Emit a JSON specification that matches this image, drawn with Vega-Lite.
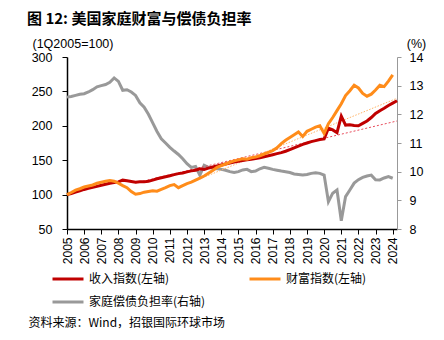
{
  "$schema": "https://vega.github.io/schema/vega-lite/v6.json",
  "width": 330,
  "height": 172,
  "autosize": {"type": "none"},
  "padding": {"left": 67, "top": 57, "right": 47, "bottom": 111},
  "background": "white",
  "title": {
    "text": "图 12: 美国家庭财富与偿债负担率",
    "anchor": "start",
    "frame": "group",
    "dx": -40,
    "offset": 10,
    "fontSize": 15,
    "fontWeight": "bold",
    "font": "Noto Sans CJK SC",
    "color": "#000000"
  },
  "config": {
    "view": {"stroke": null},
    "axis": {"grid": false, "labelFont": "Liberation Sans", "labelColor": "#000000", "titleFont": "Liberation Sans", "titleColor": "#000000", "titleFontWeight": "normal"},
    "legend": {
      "orient": "none",
      "legendX": -16,
      "legendY": 205,
      "columns": 2,
      "columnPadding": 37,
      "rowPadding": -10,
      "symbolType": "stroke",
      "symbolSize": 961,
      "symbolStrokeWidth": 3,
      "labelFontSize": 12,
      "labelFont": "Noto Sans CJK SC",
      "labelColor": "#000000",
      "labelOffset": 4,
      "labelLimit": 0
    }
  },
  "datasets": {
    "idx": [
      {"t":2005.00,"s":"收入指数(左轴)","v":100},{"t":2005.25,"s":"收入指数(左轴)","v":101.5},{"t":2005.50,"s":"收入指数(左轴)","v":103.5},{"t":2005.75,"s":"收入指数(左轴)","v":105.5},
      {"t":2006.00,"s":"收入指数(左轴)","v":107.5},{"t":2006.25,"s":"收入指数(左轴)","v":109},{"t":2006.50,"s":"收入指数(左轴)","v":110.5},{"t":2006.75,"s":"收入指数(左轴)","v":112},
      {"t":2007.00,"s":"收入指数(左轴)","v":113.5},{"t":2007.25,"s":"收入指数(左轴)","v":115},{"t":2007.50,"s":"收入指数(左轴)","v":116.5},{"t":2007.75,"s":"收入指数(左轴)","v":117.5},
      {"t":2008.00,"s":"收入指数(左轴)","v":118.5},{"t":2008.25,"s":"收入指数(左轴)","v":121},{"t":2008.50,"s":"收入指数(左轴)","v":120},{"t":2008.75,"s":"收入指数(左轴)","v":119},
      {"t":2009.00,"s":"收入指数(左轴)","v":118},{"t":2009.25,"s":"收入指数(左轴)","v":118.5},{"t":2009.50,"s":"收入指数(左轴)","v":118.5},{"t":2009.75,"s":"收入指数(左轴)","v":119.5},
      {"t":2010.00,"s":"收入指数(左轴)","v":121},{"t":2010.25,"s":"收入指数(左轴)","v":123},{"t":2010.50,"s":"收入指数(左轴)","v":124.5},{"t":2010.75,"s":"收入指数(左轴)","v":126},
      {"t":2011.00,"s":"收入指数(左轴)","v":127.5},{"t":2011.25,"s":"收入指数(左轴)","v":129},{"t":2011.50,"s":"收入指数(左轴)","v":130.5},{"t":2011.75,"s":"收入指数(左轴)","v":131.5},
      {"t":2012.00,"s":"收入指数(左轴)","v":133},{"t":2012.25,"s":"收入指数(左轴)","v":134.5},{"t":2012.50,"s":"收入指数(左轴)","v":135.5},{"t":2012.75,"s":"收入指数(左轴)","v":137.5},
      {"t":2013.00,"s":"收入指数(左轴)","v":136.5},{"t":2013.25,"s":"收入指数(左轴)","v":138.5},{"t":2013.50,"s":"收入指数(左轴)","v":140},{"t":2013.75,"s":"收入指数(左轴)","v":141.5},
      {"t":2014.00,"s":"收入指数(左轴)","v":143},{"t":2014.25,"s":"收入指数(左轴)","v":144.5},{"t":2014.50,"s":"收入指数(左轴)","v":146},{"t":2014.75,"s":"收入指数(左轴)","v":147.5},
      {"t":2015.00,"s":"收入指数(左轴)","v":148.5},{"t":2015.25,"s":"收入指数(左轴)","v":149.5},{"t":2015.50,"s":"收入指数(左轴)","v":150.5},{"t":2015.75,"s":"收入指数(左轴)","v":151.5},
      {"t":2016.00,"s":"收入指数(左轴)","v":152.5},{"t":2016.25,"s":"收入指数(左轴)","v":153.5},{"t":2016.50,"s":"收入指数(左轴)","v":155},{"t":2016.75,"s":"收入指数(左轴)","v":156.5},
      {"t":2017.00,"s":"收入指数(左轴)","v":158},{"t":2017.25,"s":"收入指数(左轴)","v":159.5},{"t":2017.50,"s":"收入指数(左轴)","v":161},{"t":2017.75,"s":"收入指数(左轴)","v":163},
      {"t":2018.00,"s":"收入指数(左轴)","v":165.5},{"t":2018.25,"s":"收入指数(左轴)","v":168},{"t":2018.50,"s":"收入指数(左轴)","v":170.5},{"t":2018.75,"s":"收入指数(左轴)","v":173},
      {"t":2019.00,"s":"收入指数(左轴)","v":175},{"t":2019.25,"s":"收入指数(左轴)","v":177},{"t":2019.50,"s":"收入指数(左轴)","v":178.5},{"t":2019.75,"s":"收入指数(左轴)","v":180},
      {"t":2020.00,"s":"收入指数(左轴)","v":181},{"t":2020.25,"s":"收入指数(左轴)","v":196.5},{"t":2020.50,"s":"收入指数(左轴)","v":194},{"t":2020.75,"s":"收入指数(左轴)","v":190},
      {"t":2021.00,"s":"收入指数(左轴)","v":214},{"t":2021.25,"s":"收入指数(左轴)","v":201},{"t":2021.50,"s":"收入指数(左轴)","v":201.5},{"t":2021.75,"s":"收入指数(左轴)","v":200.5},
      {"t":2022.00,"s":"收入指数(左轴)","v":200},{"t":2022.25,"s":"收入指数(左轴)","v":203.5},{"t":2022.50,"s":"收入指数(左轴)","v":207},{"t":2022.75,"s":"收入指数(左轴)","v":212},
      {"t":2023.00,"s":"收入指数(左轴)","v":218},{"t":2023.25,"s":"收入指数(左轴)","v":222},{"t":2023.50,"s":"收入指数(左轴)","v":225.5},{"t":2023.75,"s":"收入指数(左轴)","v":229.5},
      {"t":2024.00,"s":"收入指数(左轴)","v":233},{"t":2024.25,"s":"收入指数(左轴)","v":236.5},

      {"t":2005.00,"s":"财富指数(左轴)","v":100},{"t":2005.25,"s":"财富指数(左轴)","v":103},{"t":2005.50,"s":"财富指数(左轴)","v":106.5},{"t":2005.75,"s":"财富指数(左轴)","v":108.5},
      {"t":2006.00,"s":"财富指数(左轴)","v":111},{"t":2006.25,"s":"财富指数(左轴)","v":112.5},{"t":2006.50,"s":"财富指数(左轴)","v":114},{"t":2006.75,"s":"财富指数(左轴)","v":116.5},
      {"t":2007.00,"s":"财富指数(左轴)","v":118},{"t":2007.25,"s":"财富指数(左轴)","v":119.5},{"t":2007.50,"s":"财富指数(左轴)","v":120.5},{"t":2007.75,"s":"财富指数(左轴)","v":119.5},
      {"t":2008.00,"s":"财富指数(左轴)","v":116.5},{"t":2008.25,"s":"财富指数(左轴)","v":113},{"t":2008.50,"s":"财富指数(左轴)","v":110},{"t":2008.75,"s":"财富指数(左轴)","v":104.5},
      {"t":2009.00,"s":"财富指数(左轴)","v":100.5},{"t":2009.25,"s":"财富指数(左轴)","v":101.5},{"t":2009.50,"s":"财富指数(左轴)","v":103.5},{"t":2009.75,"s":"财富指数(左轴)","v":104.5},
      {"t":2010.00,"s":"财富指数(左轴)","v":105.5},{"t":2010.25,"s":"财富指数(左轴)","v":105},{"t":2010.50,"s":"财富指数(左轴)","v":107.5},{"t":2010.75,"s":"财富指数(左轴)","v":110},
      {"t":2011.00,"s":"财富指数(左轴)","v":113},{"t":2011.25,"s":"财富指数(左轴)","v":114.5},{"t":2011.50,"s":"财富指数(左轴)","v":110},{"t":2011.75,"s":"财富指数(左轴)","v":113},
      {"t":2012.00,"s":"财富指数(左轴)","v":116},{"t":2012.25,"s":"财富指数(左轴)","v":118},{"t":2012.50,"s":"财富指数(左轴)","v":121},{"t":2012.75,"s":"财富指数(左轴)","v":124},
      {"t":2013.00,"s":"财富指数(左轴)","v":127},{"t":2013.25,"s":"财富指数(左轴)","v":131},{"t":2013.50,"s":"财富指数(左轴)","v":135},{"t":2013.75,"s":"财富指数(左轴)","v":139.5},
      {"t":2014.00,"s":"财富指数(左轴)","v":142},{"t":2014.25,"s":"财富指数(左轴)","v":144.5},{"t":2014.50,"s":"财富指数(左轴)","v":147},{"t":2014.75,"s":"财富指数(左轴)","v":149},
      {"t":2015.00,"s":"财富指数(左轴)","v":150.5},{"t":2015.25,"s":"财富指数(左轴)","v":152},{"t":2015.50,"s":"财富指数(左轴)","v":151.5},{"t":2015.75,"s":"财富指数(左轴)","v":153.5},
      {"t":2016.00,"s":"财富指数(左轴)","v":154.5},{"t":2016.25,"s":"财富指数(左轴)","v":156.5},{"t":2016.50,"s":"财富指数(左轴)","v":159},{"t":2016.75,"s":"财富指数(左轴)","v":161.5},
      {"t":2017.00,"s":"财富指数(左轴)","v":164},{"t":2017.25,"s":"财富指数(左轴)","v":168},{"t":2017.50,"s":"财富指数(左轴)","v":174},{"t":2017.75,"s":"财富指数(左轴)","v":179},
      {"t":2018.00,"s":"财富指数(左轴)","v":183},{"t":2018.25,"s":"财富指数(左轴)","v":187},{"t":2018.50,"s":"财富指数(左轴)","v":191},{"t":2018.75,"s":"财富指数(左轴)","v":184.5},
      {"t":2019.00,"s":"财富指数(左轴)","v":192},{"t":2019.25,"s":"财富指数(左轴)","v":195},{"t":2019.50,"s":"财富指数(左轴)","v":198},{"t":2019.75,"s":"财富指数(左轴)","v":200},
      {"t":2020.00,"s":"财富指数(左轴)","v":189},{"t":2020.25,"s":"财富指数(左轴)","v":203},{"t":2020.50,"s":"财富指数(左轴)","v":212},{"t":2020.75,"s":"财富指数(左轴)","v":222},
      {"t":2021.00,"s":"财富指数(左轴)","v":232},{"t":2021.25,"s":"财富指数(左轴)","v":244},{"t":2021.50,"s":"财富指数(左轴)","v":251},{"t":2021.75,"s":"财富指数(左轴)","v":259},
      {"t":2022.00,"s":"财富指数(左轴)","v":255},{"t":2022.25,"s":"财富指数(左轴)","v":247},{"t":2022.50,"s":"财富指数(左轴)","v":243},{"t":2022.75,"s":"财富指数(左轴)","v":246},
      {"t":2023.00,"s":"财富指数(左轴)","v":252},{"t":2023.25,"s":"财富指数(左轴)","v":259},{"t":2023.50,"s":"财富指数(左轴)","v":257},{"t":2023.75,"s":"财富指数(左轴)","v":265},
      {"t":2024.00,"s":"财富指数(左轴)","v":274}
    ],
    "dsr": [
      {"t":2005.00,"s":"家庭偿债负担率(右轴)","v":12.6},{"t":2005.25,"s":"家庭偿债负担率(右轴)","v":12.62},{"t":2005.50,"s":"家庭偿债负担率(右轴)","v":12.66},{"t":2005.75,"s":"家庭偿债负担率(右轴)","v":12.7},
      {"t":2006.00,"s":"家庭偿债负担率(右轴)","v":12.72},{"t":2006.25,"s":"家庭偿债负担率(右轴)","v":12.78},{"t":2006.50,"s":"家庭偿债负担率(右轴)","v":12.86},{"t":2006.75,"s":"家庭偿债负担率(右轴)","v":12.96},
      {"t":2007.00,"s":"家庭偿债负担率(右轴)","v":13.0},{"t":2007.25,"s":"家庭偿债负担率(右轴)","v":13.04},{"t":2007.50,"s":"家庭偿债负担率(右轴)","v":13.12},{"t":2007.75,"s":"家庭偿债负担率(右轴)","v":13.27},
      {"t":2008.00,"s":"家庭偿债负担率(右轴)","v":13.15},{"t":2008.25,"s":"家庭偿债负担率(右轴)","v":12.84},{"t":2008.50,"s":"家庭偿债负担率(右轴)","v":12.86},{"t":2008.75,"s":"家庭偿债负担率(右轴)","v":12.78},
      {"t":2009.00,"s":"家庭偿债负担率(右轴)","v":12.66},{"t":2009.25,"s":"家庭偿债负担率(右轴)","v":12.4},{"t":2009.50,"s":"家庭偿债负担率(右轴)","v":12.25},{"t":2009.75,"s":"家庭偿债负担率(右轴)","v":12.0},
      {"t":2010.00,"s":"家庭偿债负担率(右轴)","v":11.7},{"t":2010.25,"s":"家庭偿债负担率(右轴)","v":11.4},{"t":2010.50,"s":"家庭偿债负担率(右轴)","v":11.15},{"t":2010.75,"s":"家庭偿债负担率(右轴)","v":11.0},
      {"t":2011.00,"s":"家庭偿债负担率(右轴)","v":10.85},{"t":2011.25,"s":"家庭偿债负担率(右轴)","v":10.72},{"t":2011.50,"s":"家庭偿债负担率(右轴)","v":10.6},{"t":2011.75,"s":"家庭偿债负担率(右轴)","v":10.45},
      {"t":2012.00,"s":"家庭偿债负担率(右轴)","v":10.28},{"t":2012.25,"s":"家庭偿债负担率(右轴)","v":10.15},{"t":2012.50,"s":"家庭偿债负担率(右轴)","v":10.18},{"t":2012.75,"s":"家庭偿债负担率(右轴)","v":9.88},
      {"t":2013.00,"s":"家庭偿债负担率(右轴)","v":10.22},{"t":2013.25,"s":"家庭偿债负担率(右轴)","v":10.15},{"t":2013.50,"s":"家庭偿债负担率(右轴)","v":10.12},{"t":2013.75,"s":"家庭偿债负担率(右轴)","v":10.1},
      {"t":2014.00,"s":"家庭偿债负担率(右轴)","v":10.08},{"t":2014.25,"s":"家庭偿债负担率(右轴)","v":10.05},{"t":2014.50,"s":"家庭偿债负担率(右轴)","v":10.0},{"t":2014.75,"s":"家庭偿债负担率(右轴)","v":9.97},
      {"t":2015.00,"s":"家庭偿债负担率(右轴)","v":10.0},{"t":2015.25,"s":"家庭偿债负担率(右轴)","v":10.06},{"t":2015.50,"s":"家庭偿债负担率(右轴)","v":10.08},{"t":2015.75,"s":"家庭偿债负担率(右轴)","v":10.0},
      {"t":2016.00,"s":"家庭偿债负担率(右轴)","v":10.02},{"t":2016.25,"s":"家庭偿债负担率(右轴)","v":10.1},{"t":2016.50,"s":"家庭偿债负担率(右轴)","v":10.15},{"t":2016.75,"s":"家庭偿债负担率(右轴)","v":10.12},
      {"t":2017.00,"s":"家庭偿债负担率(右轴)","v":10.08},{"t":2017.25,"s":"家庭偿债负担率(右轴)","v":10.05},{"t":2017.50,"s":"家庭偿债负担率(右轴)","v":10.02},{"t":2017.75,"s":"家庭偿债负担率(右轴)","v":10.0},
      {"t":2018.00,"s":"家庭偿债负担率(右轴)","v":9.97},{"t":2018.25,"s":"家庭偿债负担率(右轴)","v":9.92},{"t":2018.50,"s":"家庭偿债负担率(右轴)","v":9.9},{"t":2018.75,"s":"家庭偿债负担率(右轴)","v":9.88},
      {"t":2019.00,"s":"家庭偿债负担率(右轴)","v":9.9},{"t":2019.25,"s":"家庭偿债负担率(右轴)","v":9.94},{"t":2019.50,"s":"家庭偿债负担率(右轴)","v":9.96},{"t":2019.75,"s":"家庭偿债负担率(右轴)","v":9.94},
      {"t":2020.00,"s":"家庭偿债负担率(右轴)","v":9.88},{"t":2020.25,"s":"家庭偿债负担率(右轴)","v":8.95},{"t":2020.50,"s":"家庭偿债负担率(右轴)","v":9.25},{"t":2020.75,"s":"家庭偿债负担率(右轴)","v":9.36},
      {"t":2021.00,"s":"家庭偿债负担率(右轴)","v":8.29},{"t":2021.25,"s":"家庭偿债负担率(右轴)","v":9.13},{"t":2021.50,"s":"家庭偿债负担率(右轴)","v":9.36},{"t":2021.75,"s":"家庭偿债负担率(右轴)","v":9.6},
      {"t":2022.00,"s":"家庭偿债负担率(右轴)","v":9.72},{"t":2022.25,"s":"家庭偿债负担率(右轴)","v":9.8},{"t":2022.50,"s":"家庭偿债负担率(右轴)","v":9.85},{"t":2022.75,"s":"家庭偿债负担率(右轴)","v":9.88},
      {"t":2023.00,"s":"家庭偿债负担率(右轴)","v":9.72},{"t":2023.25,"s":"家庭偿债负担率(右轴)","v":9.71},{"t":2023.50,"s":"家庭偿债负担率(右轴)","v":9.78},{"t":2023.75,"s":"家庭偿债负担率(右轴)","v":9.83},
      {"t":2024.00,"s":"家庭偿债负担率(右轴)","v":9.77}
    ],
    "trendIncome": [{"t":2009.0,"v":117},{"t":2024.25,"v":207}],
    "trendWealth": [{"t":2011.45,"v":109.6},{"t":2024.25,"v":240}]
  },
  "encoding": {
    "x": {
      "field": "t",
      "type": "quantitative",
      "scale": {"domain": [2005, 2024.25], "nice": false, "zero": false},
      "axis": {
        "values": [2005,2006,2007,2008,2009,2010,2011,2012,2013,2014,2015,2016,2017,2018,2019,2020,2021,2022,2023,2024],
        "format": "d",
        "labelAngle": -90,
        "labelAlign": "right",
        "labelBaseline": "middle",
        "labelPadding": 3,
        "labelFontSize": 12,
        "labelOverlap": false,
        "labelFlush": false,
        "tickSize": 5,
        "tickColor": "#000000",
        "domainColor": "#000000",
        "domainWidth": 1.5,
        "title": "资料来源：Wind，招银国际环球市场",
        "titleFont": "Noto Sans CJK SC",
        "titleFontSize": 12,
        "titleAngle": 0,
        "titleAlign": "left",
        "titleBaseline": "middle",
        "titleX": -39,
        "titleY": 93
      }
    }
  },
  "layer": [
    {
      "data": {"name": "dsr"},
      "mark": {"type": "line", "strokeWidth": 3},
      "encoding": {
        "y": {
          "field": "v",
          "type": "quantitative",
          "scale": {"domain": [8, 14], "nice": false, "zero": false},
          "axis": {
            "orient": "right",
            "values": [8,9,10,11,12,13,14],
            "labelFontSize": 12.5,
            "labelPadding": 8,
            "tickSize": 4,
            "tickColor": "#999999",
            "domainColor": "#999999",
            "domainWidth": 1,
            "title": "(%)",
            "titleFontSize": 12.5,
            "titleAngle": 0,
            "titleAlign": "center",
            "titleBaseline": "middle",
            "titleX": 19,
            "titleY": -14
          }
        },
        "color": {
          "field": "s",
          "type": "nominal",
          "scale": {"domain": ["收入指数(左轴)", "家庭偿债负担率(右轴)", "财富指数(左轴)"], "range": ["#C00000", "#999999", "#FF8C1A"]},
          "legend": {"title": null}
        }
      }
    },
    {
      "encoding": {
        "y": {
          "field": "v",
          "type": "quantitative",
          "scale": {"domain": [50, 300], "nice": false, "zero": false},
          "axis": {
            "orient": "left",
            "values": [50,100,150,200,250,300],
            "labelFontSize": 12.5,
            "labelPadding": 10,
            "tickSize": 5,
            "tickColor": "#000000",
            "domainColor": "#000000",
            "domainWidth": 1.5,
            "title": "(1Q2005=100)",
            "titleFontSize": 12.5,
            "titleAngle": 0,
            "titleAlign": "left",
            "titleBaseline": "middle",
            "titleX": -35,
            "titleY": -14
          }
        }
      },
      "layer": [
        {"data": {"name": "trendIncome"}, "mark": {"type": "line", "strokeWidth": 1, "strokeDash": [2, 2], "color": "#E84A5A"}},
        {"data": {"name": "trendWealth"}, "mark": {"type": "line", "strokeWidth": 1, "strokeDash": [1.5, 1.5], "color": "#FFB468"}},
        {
          "data": {"name": "idx"},
          "mark": {"type": "line", "strokeWidth": 3},
          "encoding": {
            "color": {
              "field": "s",
              "type": "nominal",
              "scale": {"domain": ["收入指数(左轴)", "家庭偿债负担率(右轴)", "财富指数(左轴)"], "range": ["#C00000", "#999999", "#FF8C1A"]},
              "legend": {"title": null}
            }
          }
        }
      ]
    }
  ],
  "resolve": {"scale": {"y": "independent"}}
}
